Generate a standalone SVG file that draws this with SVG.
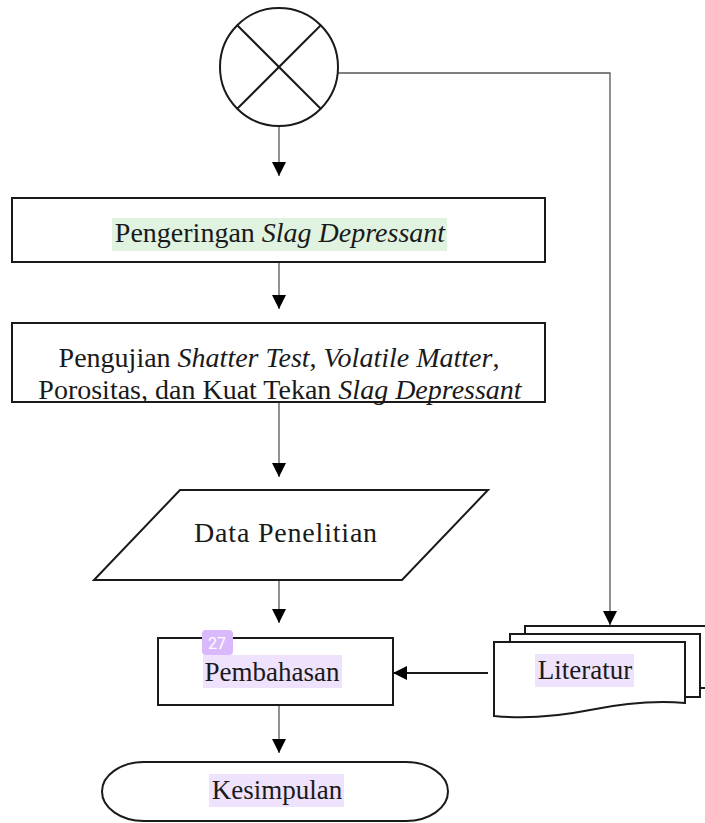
<svg xmlns="http://www.w3.org/2000/svg" width="705" height="823" viewBox="0 0 705 823">
<style>
.box{fill:#fff;stroke:#1a1a1a;stroke-width:2}
.ln{fill:none;stroke:#555;stroke-width:1.3}
.t{font-family:"Liberation Serif","Times New Roman",serif;font-size:27px;fill:#1a1a1a;text-anchor:middle}
.b{font-size:28px}
.i{font-style:italic}
.hg{fill:#e0f3e0}
.hp{fill:#efe2fd}
</style>
<defs>
<marker id="ah" markerUnits="userSpaceOnUse" markerWidth="14" markerHeight="16" viewBox="0 0 14 16" refX="14" refY="8" orient="auto">
<path d="M0,1 L14,8 L0,15 Z" fill="#000"/>
</marker>
</defs>
<g id="connectors">
<line class="ln" x1="279" y1="127" x2="279" y2="176" marker-end="url(#ah)"/>
<line class="ln" x1="279" y1="262" x2="279" y2="309" marker-end="url(#ah)"/>
<line class="ln" x1="279" y1="402" x2="279" y2="477" marker-end="url(#ah)"/>
<line class="ln" x1="279" y1="580" x2="279" y2="623" marker-end="url(#ah)"/>
<line class="ln" x1="279" y1="705" x2="279" y2="753" marker-end="url(#ah)"/>
<polyline class="ln" points="338,73 610,73 610,625" marker-end="url(#ah)"/>
<line x1="488" y1="673" x2="393" y2="673" stroke="#1a1a1a" stroke-width="2" marker-end="url(#ah)"/>
</g>
<g id="start">
<circle class="box" cx="279" cy="67" r="59"/>
<line x1="237" y1="25" x2="321" y2="109" stroke="#1a1a1a" stroke-width="2"/>
<line x1="321" y1="25" x2="237" y2="109" stroke="#1a1a1a" stroke-width="2"/>
</g>
<g id="pengeringan">
<rect class="box" x="12" y="198" width="533" height="64"/>
<rect class="hg" x="112" y="218" width="335" height="33"/>
<text class="t b" x="280" y="242">Pengeringan <tspan class="i">Slag Depressant</tspan></text>
</g>
<g id="pengujian">
<rect class="box" x="12" y="323" width="533" height="79"/>
<text class="t b" x="279" y="367">Pengujian <tspan class="i">Shatter Test</tspan>, <tspan class="i">Volatile Matter</tspan>,</text>
<text class="t b" x="280" y="399">Porositas, dan Kuat Tekan <tspan class="i">Slag Depressant</tspan></text>
</g>
<g id="data">
<polygon class="box" points="180,490 488,490 402,580 94,580"/>
<text class="t b" x="286" y="542" letter-spacing="0.8">Data Penelitian</text>
</g>
<g id="pembahasan">
<rect class="box" x="158" y="638" width="235" height="67"/>
<rect class="hp" x="203" y="655" width="139" height="33"/>
<rect x="202" y="630" width="31" height="25" rx="4" fill="#d9b8fb"/>
<text x="217" y="649" font-family="Roboto,'Liberation Sans',sans-serif" font-size="16" fill="#fff" text-anchor="middle">27</text>
<text class="t" x="272" y="681">Pembahasan</text>
</g>
<g id="literatur">
<path class="box" d="M525,634 V626 H712 V688 H700"/>
<path class="box" d="M510,642 V634 H700 V697 H685"/>
<path class="box" d="M494,642 H685 V703 C650,700 620,704 590,710 C555,717 525,719 494,716 Z"/>
<rect class="hp" x="535" y="654" width="99" height="33"/>
<text class="t" x="585" y="679">Literatur</text>
</g>
<g id="kesimpulan">
<rect class="box" x="102" y="762" width="346" height="59" rx="42" ry="29.5"/>
<rect class="hp" x="209" y="774" width="135" height="33"/>
<text class="t" x="277" y="799">Kesimpulan</text>
</g>
</svg>
